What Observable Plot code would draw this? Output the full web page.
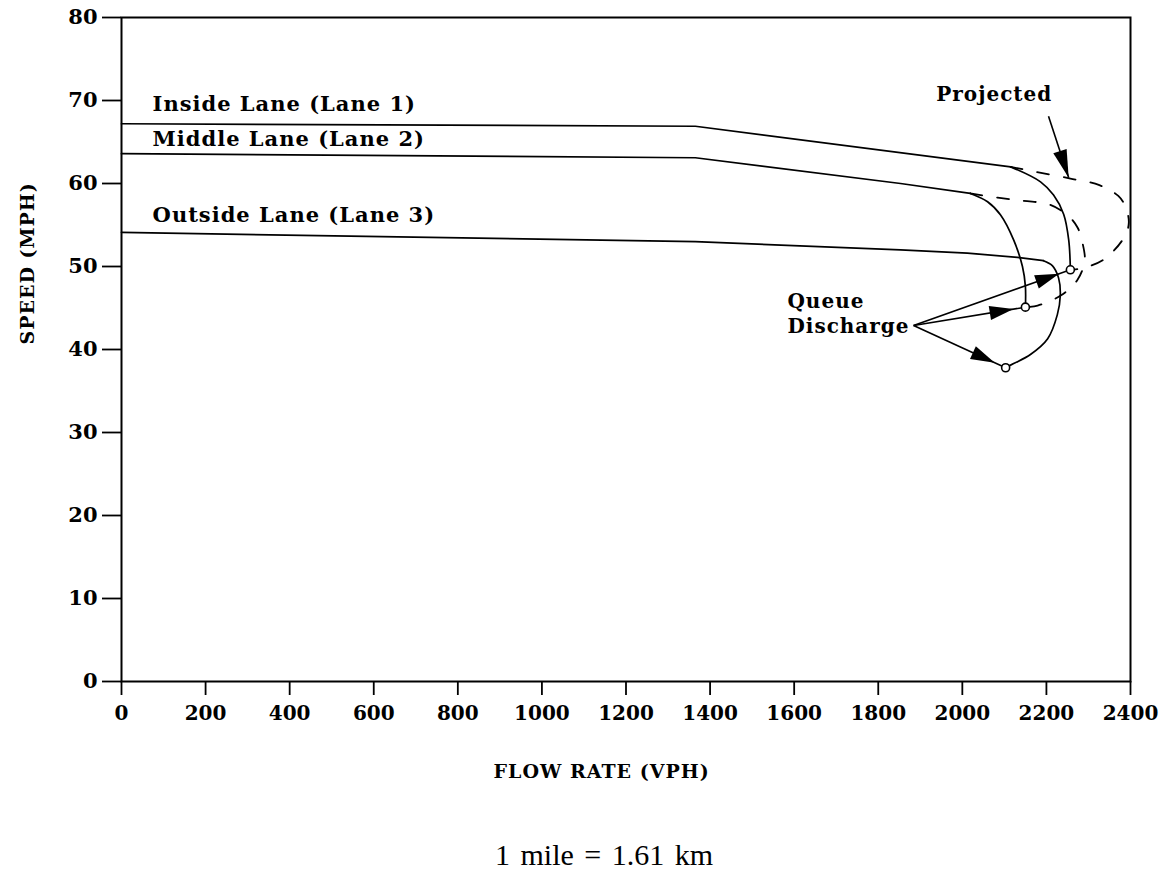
<!DOCTYPE html>
<html>
<head>
<meta charset="utf-8">
<script src="https://cdn.jsdelivr.net/npm/d3@7"></script>
<script src="https://cdn.jsdelivr.net/npm/@observablehq/plot@0.6"></script>
<style>
  html, body { margin: 0; padding: 0; background: #fff; }
  #chart svg { display: block; }
  #caption { height: 50px; line-height: 50px; padding-left: 495px; font-family: "Liberation Serif", serif; font-size: 30px; color: #000; word-spacing: 3px; }
</style>
</head>
<body>
<div id="chart"></div>
<div id="caption">1 mile = 1.61 km</div>
<script>
// ---------- data ----------
const flowTicks = [0, 200, 400, 600, 800, 1000, 1200, 1400, 1600, 1800, 2000, 2200, 2400];
const speedTicks = [0, 10, 20, 30, 40, 50, 60, 70, 80];

// straight (linear) part and curved part of each lane, sharing the joint point
const lane1Flow  = [0, 1365, 2115, 2186, 2217, 2241, 2253, 2257];
const lane1Speed = [67.2, 66.9, 62.0, 60.2, 58.6, 56.3, 53.2, 49.6];
const lane1Bend = 2;
const lane1ProjFlow  = [2115, 2176, 2257, 2326, 2371, 2388, 2396, 2386, 2338, 2286, 2257];
const lane1ProjSpeed = [62.0, 61.4, 60.6, 59.8, 58.5, 57.2, 55.3, 53.6, 50.9, 49.8, 49.6];

const lane2Flow  = [0, 1365, 1853, 2019, 2060, 2091, 2122, 2143, 2150, 2150];
const lane2Speed = [63.6, 63.1, 60.0, 58.8, 57.8, 56.2, 53.2, 50.0, 47.6, 45.1];
const lane2Bend = 3;
const lane2ProjFlow  = [2019, 2084, 2146, 2205, 2250, 2274, 2286, 2291, 2274, 2234, 2179, 2150];
const lane2ProjSpeed = [58.8, 58.3, 57.9, 57.5, 56.2, 54.7, 52.8, 50.7, 48.4, 46.5, 45.3, 45.1];

const lane3Flow  = [0, 1365, 1853, 2012, 2131, 2193, 2214, 2229, 2233, 2226, 2203, 2162, 2122, 2103];
const lane3Speed = [54.1, 53.0, 52.0, 51.6, 51.1, 50.7, 50.1, 48.6, 46.5, 44.2, 41.3, 39.4, 38.3, 37.8];
const lane3Bend = 5;

const dischargeFlow  = [2257, 2150, 2103];
const dischargeSpeed = [49.6, 45.1, 37.8];

const laneLabels     = ["Inside Lane (Lane 1)", "Middle Lane (Lane 2)", "Outside Lane (Lane 3)"];
const laneLabelFlow  = [74, 74, 74];
const laneLabelSpeed = [69.6, 65.3, 56.2];

const queueLabels     = ["Queue", "Discharge"];
const queueLabelFlow  = [1584, 1584];
const queueLabelSpeed = [45.8, 42.7];
const queueArrowFlow  = 1884;
const queueArrowSpeed = 42.9;

const projLabel = "Projected";
const projLabelFlow = 2214, projLabelSpeed = 70.7;
const projArrowFrom = [2205, 68.1];
const projArrowTo   = [2253, 60.7];

const xLabel = "FLOW RATE (VPH)";
const yLabel = "SPEED (MPH)";
const xLabelFlow = 1142;
const yLabelSpeed = 40.6;

// ---------- layout ----------
const W = 1165, H = 830, ML = 121, MR = 35, MT = 17, MB = 149;
const kx = (W - ML - MR) / 2400, ky = (H - MT - MB) / 80;

const zip = (xs, ys) => xs.map((x, i) => ({x, y: ys[i]}));
const lane1 = zip(lane1Flow, lane1Speed);
const lane2 = zip(lane2Flow, lane2Speed);
const lane3 = zip(lane3Flow, lane3Speed);
const lane1Proj = zip(lane1ProjFlow, lane1ProjSpeed);
const lane2Proj = zip(lane2ProjFlow, lane2ProjSpeed);
const discharge = zip(dischargeFlow, dischargeSpeed);

const arrows = [
  ...discharge.map(d => ({x1: queueArrowFlow, y1: queueArrowSpeed, x2: d.x, y2: d.y, head: "q"})),
  {x1: projArrowFrom[0], y1: projArrowFrom[1], x2: projArrowTo[0], y2: projArrowTo[1], head: "p"}
];
arrows.forEach(a => {
  const dx = (a.x2 - a.x1) * kx, dy = -(a.y2 - a.y1) * ky;
  a.angle = Math.atan2(dx, -dy) * 180 / Math.PI;
});

function headSymbol(off, L, w) {
  return {draw(ctx) { ctx.moveTo(0, off); ctx.lineTo(w, off + L); ctx.lineTo(-w, off + L); ctx.closePath(); }};
}

const straightOpts = {x: "x", y: "y", stroke: "black", strokeWidth: 1.7, curve: "linear"};
const arcOpts = {...straightOpts, curve: "catmull-rom"};
const dashOpts = {...arcOpts, strokeDasharray: "12,15", strokeWidth: 1.8};

const chart = Plot.plot({
  width: W, height: H,
  marginLeft: ML, marginRight: MR, marginTop: MT, marginBottom: MB,
  x: {domain: [0, 2400]},
  y: {domain: [0, 80]},
  style: {fontFamily: "'DejaVu Serif', serif", fontWeight: "bold", fontSize: "20px", color: "black", background: "white"},
  marks: [
    Plot.frame({stroke: "black", strokeWidth: 2}),
    Plot.axisX({ticks: flowTicks, tickSize: 14, tickPadding: 10, label: null, strokeWidth: 1.8, fontSize: 20, tickFormat: d => String(d)}),
    Plot.axisY({ticks: speedTicks, tickSize: 19, tickPadding: 5, label: null, strokeWidth: 1.8, fontSize: 21, tickFormat: d => String(d)}),
    Plot.line(lane1Proj, dashOpts),
    Plot.line(lane2Proj, dashOpts),
    Plot.line(lane1.slice(0, lane1Bend + 1), straightOpts),
    Plot.line(lane1.slice(lane1Bend), arcOpts),
    Plot.line(lane2.slice(0, lane2Bend + 1), straightOpts),
    Plot.line(lane2.slice(lane2Bend), arcOpts),
    Plot.line(lane3.slice(0, lane3Bend + 1), straightOpts),
    Plot.line(lane3.slice(lane3Bend), arcOpts),
    Plot.link(arrows, {x1: "x1", y1: "y1", x2: "x2", y2: "y2", stroke: "black", strokeWidth: 1.6}),
    Plot.dot(arrows.filter(a => a.head === "q"), {x: "x2", y: "y2", symbol: headSymbol(12, 24, 7), rotate: "angle", fill: "black", stroke: "none", r: 5}),
    Plot.dot(arrows.filter(a => a.head === "p"), {x: "x2", y: "y2", symbol: headSymbol(0, 28, 7), rotate: "angle", fill: "black", stroke: "none", r: 5}),
    Plot.dot(discharge, {x: "x", y: "y", r: 4, fill: "white", stroke: "black", strokeWidth: 1.6}),
    Plot.text(laneLabels, {x: (d, i) => laneLabelFlow[i], y: (d, i) => laneLabelSpeed[i], text: d => d, textAnchor: "start", fontSize: 21}),
    Plot.text(queueLabels, {x: (d, i) => queueLabelFlow[i], y: (d, i) => queueLabelSpeed[i], text: d => d, textAnchor: "start", fontSize: 20}),
    Plot.text([projLabel], {x: [projLabelFlow], y: [projLabelSpeed], text: d => d, textAnchor: "end", fontSize: 20}),
    Plot.text([xLabel], {x: [xLabelFlow], frameAnchor: "bottom", dy: 96, text: d => d, fontSize: 19}),
    Plot.text([yLabel], {y: [yLabelSpeed], frameAnchor: "left", dx: -94, rotate: -90, text: d => d, fontSize: 19})
  ]
});
d3.select(chart).selectAll('g[aria-label="text"] text').style("letter-spacing", "1px");
document.getElementById("chart").append(chart);
</script>
</body>
</html>
